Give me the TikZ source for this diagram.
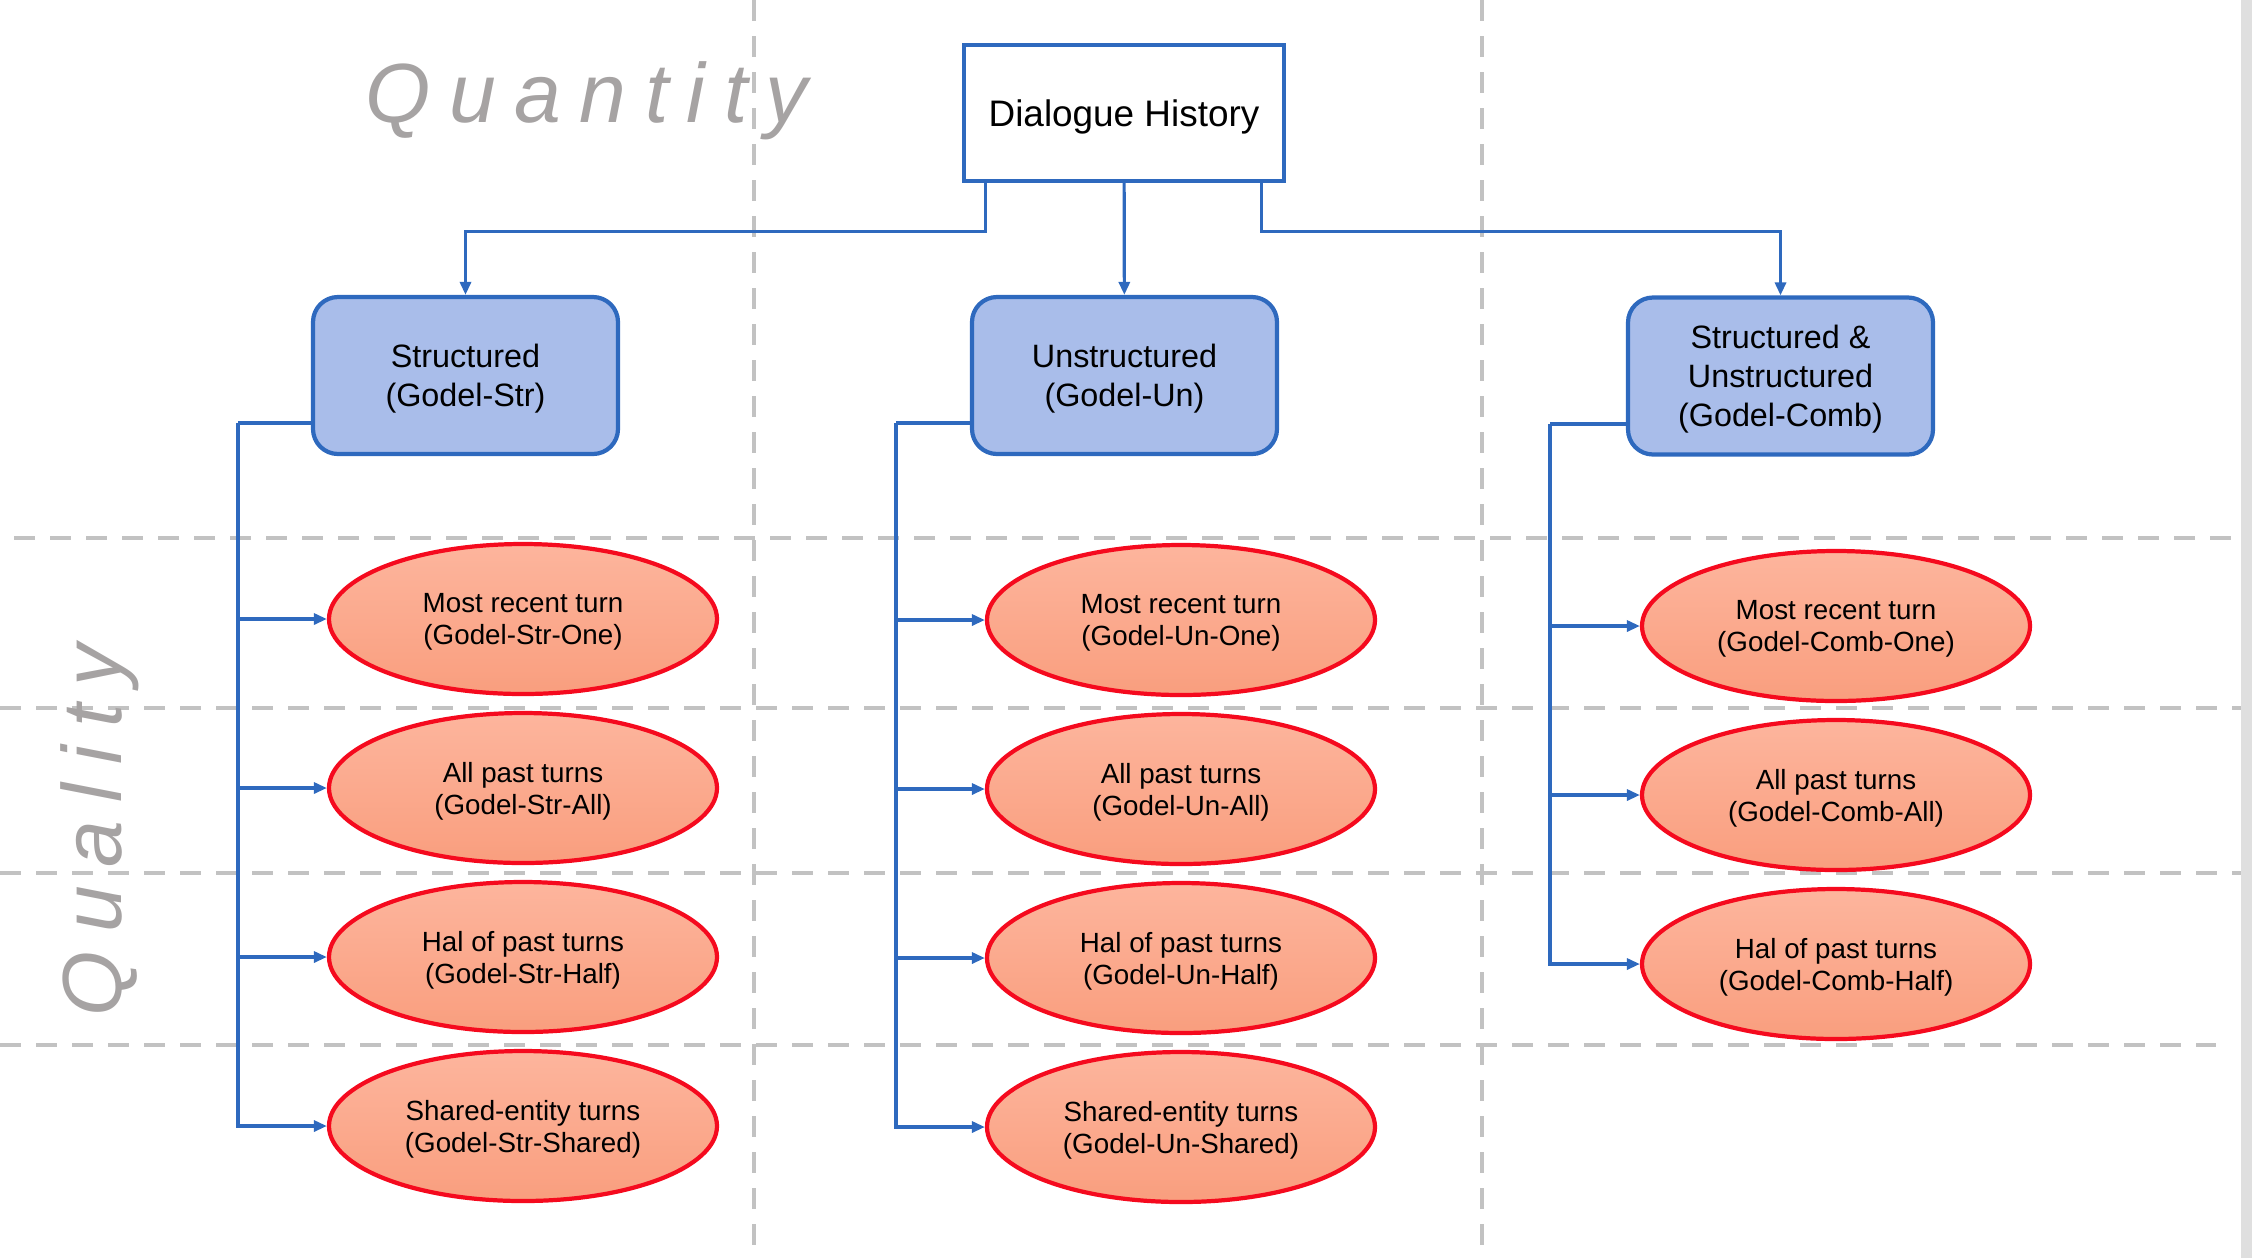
\documentclass[tikz,border=0pt]{standalone}
\usepackage{fontspec}
\setmainfont{Liberation Sans}
\usepackage{tikz}
\usetikzlibrary{arrows.meta,shapes.geometric,positioning}

\definecolor{boxblue}{HTML}{A9BDEA}
\definecolor{lineblue}{HTML}{2E69BE}
\definecolor{ovaltop}{HTML}{FDB59D}
\definecolor{ovalbottom}{HTML}{F99E7E}
\definecolor{ovalred}{HTML}{F50A1E}
\definecolor{gridgray}{HTML}{C2C2C2}
\definecolor{labelgray}{HTML}{A6A3A3}

\tikzset{
  history/.style={draw=lineblue, line width=1.2pt, fill=white, minimum width=3.2cm, minimum height=1.36cm, text depth=0pt, font=\fontsize{10.5}{12.6}\selectfont},
  source/.style={draw=lineblue, line width=1.2pt, fill=boxblue, rounded corners=0.25cm, minimum width=3.05cm, minimum height=1.57cm, align=center, text depth=0pt, font=\fontsize{9.2}{11.1}\selectfont},
  turns/.style={ellipse, draw=ovalred, line width=1.2pt, top color=ovaltop, bottom color=ovalbottom, minimum width=3.88cm, minimum height=1.5cm, inner sep=0pt, align=center, text depth=0pt, font=\fontsize{7.9}{9.1}\selectfont},
  link/.style={draw=lineblue, line width=0.9pt},
  gridline/.style={draw=gridgray, line width=1.4pt, dash pattern=on 0.21cm off 0.15cm},
  axislabel/.style={text=labelgray, inner sep=0pt, font=\fontsize{23.9}{28}\selectfont\itshape\addfontfeature{LetterSpace=22}},
  elbow/.style={to path={|- (\tikztotarget)}},
  drop/.style={to path={-- ++(0,-0.48) -| (\tikztotarget)}}
}

\begin{document}
\begin{tikzpicture}[>={Triangle[length=0.13cm, width=0.11cm]}, node distance=1.69cm]
    \useasboundingbox (0,0) rectangle (22.52,-12.58);

    % Background grid
    \fill [gray!25] (22.41,0) rectangle (22.52,-12.58);
    \foreach \x in {7.54, 14.82}
        \draw [gridline] (\x,0) -- (\x,-12.58);
    \draw [gridline] (0.14,-5.38) -- (22.41,-5.38);
    \draw [gridline] (0,-7.08)    -- (22.41,-7.08);
    \draw [gridline] (0,-8.73)    -- (22.41,-8.73);
    \draw [gridline] (0,-10.45)   -- (22.16,-10.45);

    % Axis labels
    \node [axislabel, anchor=base west]            (quantity) at (3.65,-1.22)  {Quantity};
    \node [axislabel, anchor=base west, rotate=90] (quality)  at (1.21,-10.17) {Quality};

    % Nodes {hist, str, un, comb}
    \node [history] (hist) at (11.24,-1.13)  {Dialogue History};
    \node [source]  (str)  at (4.655,-3.755) {Structured\\(Godel-Str)};
    \node [source]  (un)   at (11.245,-3.755) {Unstructured\\(Godel-Un)};
    \node [source]  (comb) at (17.805,-3.76) {Structured \&\\Unstructured\\(Godel-Comb)};

    % Nodes {strone, strall, strhalf, strshared}
    \node [turns] (strone)    at (5.23,-6.19)       {Most recent turn\\(Godel-Str-One)};
    \node [turns] (strall)    [below of=strone]     {All past turns\\(Godel-Str-All)};
    \node [turns] (strhalf)   [below of=strall]     {Hal of past turns\\(Godel-Str-Half)};
    \node [turns] (strshared) [below of=strhalf]    {Shared-entity turns\\(Godel-Str-Shared)};

    % Nodes {unone, unall, unhalf, unshared}
    \node [turns] (unone)     at (11.81,-6.20)      {Most recent turn\\(Godel-Un-One)};
    \node [turns] (unall)     [below of=unone]      {All past turns\\(Godel-Un-All)};
    \node [turns] (unhalf)    [below of=unall]      {Hal of past turns\\(Godel-Un-Half)};
    \node [turns] (unshared)  [below of=unhalf]     {Shared-entity turns\\(Godel-Un-Shared)};

    % Nodes {combone, comball, combhalf}
    \node [turns] (combone)   at (18.36,-6.26)      {Most recent turn\\(Godel-Comb-One)};
    \node [turns] (comball)   [below of=combone]    {All past turns\\(Godel-Comb-All)};
    \node [turns] (combhalf)  [below of=comball]    {Hal of past turns\\(Godel-Comb-Half)};

    \coordinate (strfork)  at (2.38,-4.23);
    \coordinate (unfork)   at (8.96,-4.23);
    \coordinate (combfork) at (15.50,-4.24);

    % Paths
    \path [->] ([xshift=0.24cm]hist.south west)  edge [link, drop] (str.north);
    \path [->] (hist)                            edge [link]       (un);
    \path [->] ([xshift=-0.25cm]hist.south east) edge [link, drop] (comb.north);

    \path (str.west |- strfork)   edge [link] (strfork);
    \path (un.west |- unfork)     edge [link] (unfork);
    \path (comb.west |- combfork) edge [link] (combfork);

    \foreach \t in {one, all, half, shared}
        \path [->] (strfork) edge [link, elbow] (str\t.west);
    \foreach \t in {one, all, half, shared}
        \path [->] (unfork)  edge [link, elbow] (un\t.west);
    \foreach \t in {one, all, half}
        \path [->] (combfork) edge [link, elbow] (comb\t.west);

\end{tikzpicture}
\end{document}
